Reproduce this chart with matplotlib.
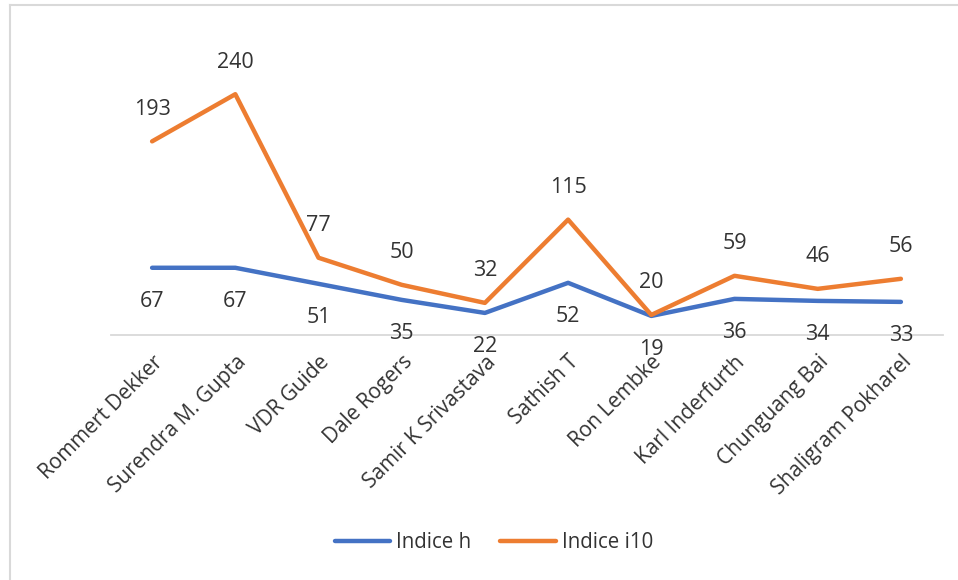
import numpy as np
import matplotlib.pyplot as plt
from matplotlib.lines import Line2D

# Données
auteurs = ["Rommert Dekker", "Surendra M. Gupta", "VDR Guide", "Dale Rogers",
           "Samir K Srivastava", "Sathish T", "Ron Lembke", "Karl Inderfurth",
           "Chunguang Bai", "Shaligram Pokharel"]
indice_h = [67, 67, 51, 35, 22, 52, 19, 36, 34, 33]
indice_i10 = [193, 240, 77, 50, 32, 115, 20, 59, 46, 56]

bleu = "#4472C4"
orange = "#ED7D31"
gris_txt = "#333333"
plt.rcParams['font.family'] = ["Open Sans", "DejaVu Sans"]

W, H = 958, 580
fig = plt.figure(figsize=(W / 100, H / 100), dpi=100)
ax = fig.add_axes([110.5 / W, 1 - 335 / H, (942.5 - 110.5) / W, (335 - 34) / H])

x = np.arange(len(auteurs))
ax.plot(x, indice_h, color=bleu, lw=3.2, solid_capstyle="round", label="Indice h", zorder=3)
ax.plot(x, indice_i10, color=orange, lw=3.2, solid_capstyle="round", label="Indice i10", zorder=3)

# étiquettes de données
for xi, h, i10 in zip(x, indice_h, indice_i10):
    ax.annotate(str(i10), (xi, i10), xytext=(0, 32), textcoords="offset pixels",
                ha="center", va="center", fontsize=15.5, color=gris_txt)
    ax.annotate(str(h), (xi, h), xytext=(0, -34), textcoords="offset pixels",
                ha="center", va="center", fontsize=15.5, color=gris_txt)

ax.set_xlim(-0.5, len(auteurs) - 0.5)
ax.set_ylim(0, 300)
ax.set_yticks([])
ax.set_xticks(x)
ax.set_xticklabels(auteurs, rotation=45, ha="right", va="top",
                   rotation_mode="anchor", fontsize=15, color=gris_txt)
ax.tick_params(axis="x", length=0, pad=12)
for s in ["top", "right", "left"]:
    ax.spines[s].set_visible(False)
ax.spines["bottom"].set_color("#D9D9D9")
ax.spines["bottom"].set_linewidth(1.3)
ax.patch.set_alpha(0)

# légende
fig.legend(loc="center", bbox_to_anchor=(494 / W, 1 - 543 / H), ncol=2, frameon=False,
           fontsize=14.8, handlelength=2.7, handletextpad=0.3, columnspacing=1.4,
           labelcolor=gris_txt)

# bordure (haut et gauche)
fig.add_artist(Line2D([10 / W, 1], [1 - 5 / H, 1 - 5 / H], color="#D9D9D9", lw=1.5))
fig.add_artist(Line2D([10 / W, 10 / W], [0, 1 - 5 / H], color="#D9D9D9", lw=1.5))

fig.savefig("out.png", dpi=100)
